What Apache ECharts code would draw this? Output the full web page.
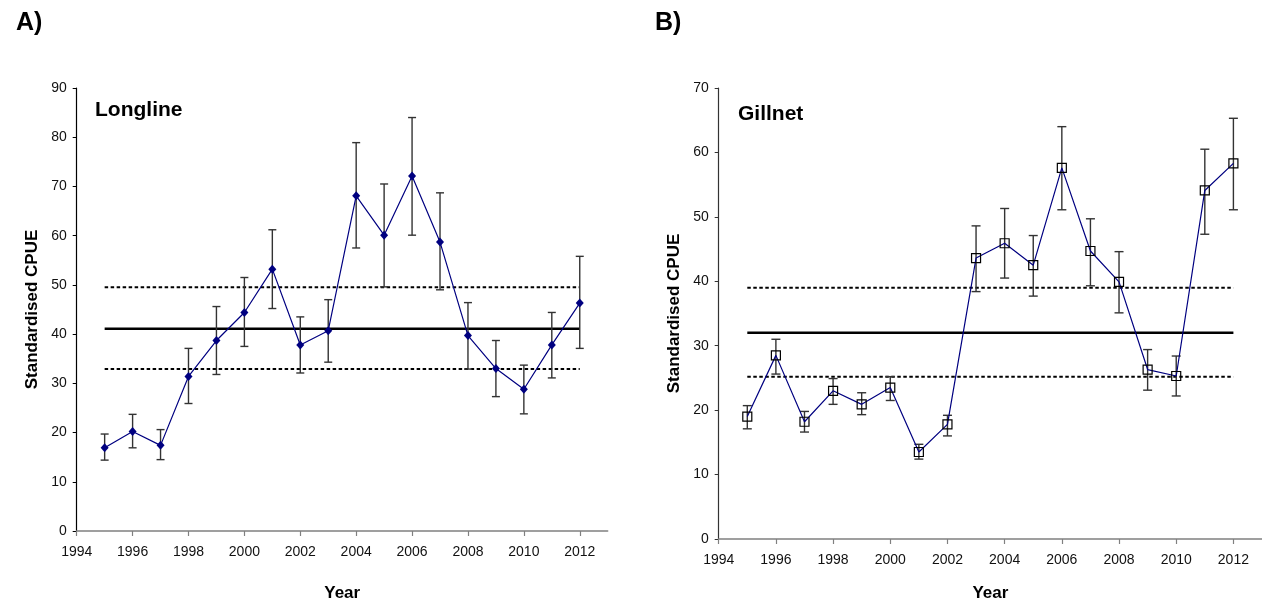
<!DOCTYPE html>
<html>
<head>
<meta charset="utf-8">
<script src="https://cdn.jsdelivr.net/npm/echarts@6/dist/echarts.min.js"></script>
<style>
html,body{margin:0;padding:0;background:#fff;}
#chart{width:1262px;height:607px;}
</style>
</head>
<body>
<div id="chart"></div>
<script>
const years = [1995,1996,1997,1998,1999,2000,2001,2002,2003,2004,2005,2006,2007,2008,2009,2010,2011,2012];
const xTicks = [1994,1996,1998,2000,2002,2004,2006,2008,2010,2012];

const longlineCpue  = [16.9,20.2,17.4,31.4,38.7,44.4,53.2,37.8,40.7,68.1,60.1,72.1,58.7,39.7,33.0,28.8,37.8,46.3];
const longlineLower = [14.4,16.9,14.5,25.9,31.8,37.5,45.2,32.1,34.3,57.5,49.6,60.1,49.0,32.9,27.3,23.8,31.1,37.1];
const longlineUpper = [19.7,23.7,20.6,37.1,45.6,51.5,61.2,43.5,47.0,78.9,70.5,84.0,68.7,46.4,38.7,33.7,44.4,55.8];
const longlineMean = 41.1;
const longlineBand = [32.9, 49.5];
const longlineYTicks = [0,10,20,30,40,50,60,70,80,90];

const gillnetCpue  = [19.0,28.5,18.2,23.0,20.9,23.5,13.5,17.8,43.6,45.9,42.5,57.6,44.7,39.9,26.3,25.3,54.1,58.3];
const gillnetLower = [17.1,25.6,16.6,20.9,19.3,21.5,12.4,16.0,38.4,40.5,37.7,51.1,39.3,35.1,23.1,22.2,47.3,51.1];
const gillnetUpper = [20.7,31.0,19.8,24.9,22.7,25.2,14.7,19.2,48.6,51.3,47.1,64.0,49.7,44.6,29.4,28.4,60.5,65.3];
const gillnetMean = 32.0;
const gillnetBand = [25.2, 39.0];
const gillnetYTicks = [0,10,20,30,40,50,60,70];

const FONT = '"Liberation Sans", Arial, sans-serif';
const firstYear = years[0], lastYear = years[years.length - 1];

function xAxisFor(gi, gap) {
  return {
    type: 'value', gridIndex: gi, min: 1994, max: 2013,
    name: 'Year', nameLocation: 'middle', nameGap: gap,
    nameTextStyle: {fontFamily: FONT, fontWeight: 'bold', fontSize: 17, color: '#000'},
    axisLine: {show: true, lineStyle: {color: '#808080', width: 1.5}},
    axisTick: {show: true, length: 5, customValues: xTicks, lineStyle: {color: '#808080', width: 1.2}},
    axisLabel: {customValues: xTicks, formatter: v => String(v), fontFamily: FONT, fontSize: 14, color: '#111', margin: 14},
    splitLine: {show: false}
  };
}
function yAxisFor(gi, max, ticks, color) {
  return {
    type: 'value', gridIndex: gi, min: 0, max: max, interval: 10,
    name: 'Standardised CPUE', nameLocation: 'middle', nameGap: 36, nameRotate: 90,
    nameTextStyle: {fontFamily: FONT, fontWeight: 'bold', fontSize: 17, color: '#000'},
    axisLine: {show: true, lineStyle: {color: color, width: 1.2}},
    axisTick: {show: true, length: 4, lineStyle: {color: color, width: 1}},
    axisLabel: {customValues: ticks, formatter: v => String(v), fontFamily: FONT, fontSize: 14, color: '#111', margin: 10},
    splitLine: {show: false}
  };
}
function errorSeries(gi, lower, upper, capHalf) {
  return {
    type: 'custom', xAxisIndex: gi, yAxisIndex: gi, z: 3, silent: true,
    data: years.map((y, i) => [y, lower[i], upper[i]]),
    renderItem: function (params, api) {
      const lo = api.coord([api.value(0), api.value(1)]);
      const hi = api.coord([api.value(0), api.value(2)]);
      const st = {stroke: '#333', lineWidth: 1.4};
      return {
        type: 'group',
        children: [
          {type: 'line', shape: {x1: lo[0], y1: lo[1], x2: hi[0], y2: hi[1]}, style: st},
          {type: 'line', shape: {x1: lo[0] - capHalf, y1: lo[1], x2: lo[0] + capHalf, y2: lo[1]}, style: st},
          {type: 'line', shape: {x1: hi[0] - capHalf, y1: hi[1], x2: hi[0] + capHalf, y2: hi[1]}, style: st}
        ]
      };
    }
  };
}
function refLine(gi, v, dotted) {
  return {
    type: 'line', xAxisIndex: gi, yAxisIndex: gi, z: 2, silent: true, symbol: 'none',
    data: [[firstYear, v], [lastYear, v]],
    lineStyle: dotted ? {color: '#000', width: 2, type: [3.5, 2.5]} : {color: '#000', width: 2.5}
  };
}

const chart = echarts.init(document.getElementById('chart'), null, {renderer: 'canvas'});
chart.setOption({
  backgroundColor: '#fff',
  animation: false,
  title: [
    {text: 'A)', left: 11, top: 6, textStyle: {fontFamily: FONT, fontWeight: 'bold', fontSize: 25, color: '#000'}},
    {text: 'B)', left: 650, top: 6, textStyle: {fontFamily: FONT, fontWeight: 'bold', fontSize: 25, color: '#000'}},
    {text: 'Longline', left: 90, top: 95, textStyle: {fontFamily: FONT, fontWeight: 'bold', fontSize: 21, color: '#000'}},
    {text: 'Gillnet', left: 733, top: 99, textStyle: {fontFamily: FONT, fontWeight: 'bold', fontSize: 21, color: '#000'}}
  ],
  grid: [
    {left: 76.7, top: 88, width: 531, height: 449},
    {left: 718.7, top: 88, width: 545, height: 456}
  ],
  xAxis: [xAxisFor(0, 54), xAxisFor(1, 46)],
  yAxis: [yAxisFor(0, 90, longlineYTicks, '#000'), yAxisFor(1, 70, gillnetYTicks, '#333')],
  series: [
    refLine(0, longlineMean, false),
    refLine(0, longlineBand[0], true),
    refLine(0, longlineBand[1], true),
    errorSeries(0, longlineLower, longlineUpper, 4),
    {
      type: 'line', xAxisIndex: 0, yAxisIndex: 0, z: 4,
      data: years.map((y, i) => [y, longlineCpue[i]]),
      symbol: 'diamond', symbolSize: [8, 9],
      lineStyle: {color: '#000080', width: 1.2},
      itemStyle: {color: '#000080'}
    },
    refLine(1, gillnetMean, false),
    refLine(1, gillnetBand[0], true),
    refLine(1, gillnetBand[1], true),
    errorSeries(1, gillnetLower, gillnetUpper, 4.5),
    {
      type: 'line', xAxisIndex: 1, yAxisIndex: 1, z: 4,
      data: years.map((y, i) => [y, gillnetCpue[i]]),
      symbol: 'rect', symbolSize: 9, showAllSymbol: true,
      lineStyle: {color: '#000080', width: 1.2},
      itemStyle: {color: 'rgba(255,255,255,0)', borderColor: '#000', borderWidth: 1.2}
    }
  ]
});
</script>
</body>
</html>
